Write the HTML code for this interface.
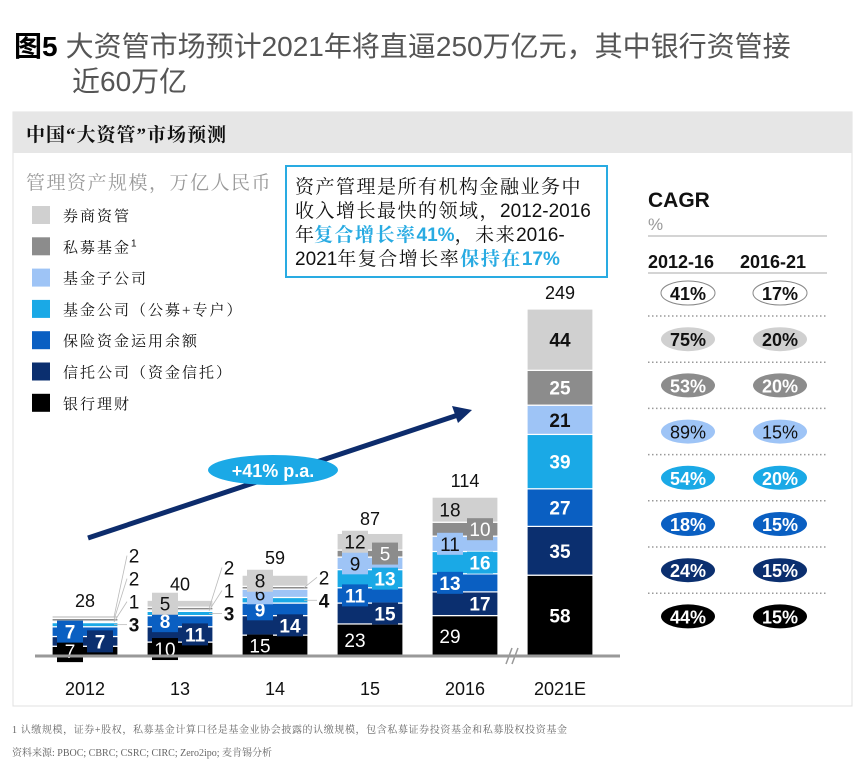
<!DOCTYPE html>
<html><head><meta charset="utf-8">
<style>
body{margin:0;width:864px;height:768px;background:#fff;overflow:hidden;font-family:"Liberation Sans","Noto Sans CJK SC",sans-serif;}
svg{position:absolute;left:0;top:0}
.serif{font-family:"Liberation Serif","Noto Serif CJK SC",serif}
</style></head>
<body>
<svg width="864" height="768" xmlns="http://www.w3.org/2000/svg" id="chart">
  <text x="14" y="56" font-size="28"><tspan font-weight="bold" fill="#000">图5</tspan><tspan fill="#555" dx="8">大资管市场预计2021年将直逼250万亿元，其中银行资管接</tspan></text>
  <text x="72" y="91" font-size="28" fill="#555">近60万亿</text>
  <rect x="13" y="112" width="839" height="594" fill="#fff" stroke="#e0e0e0"/>
  <rect x="13" y="112" width="839" height="41" fill="#e6e6e6"/>
  <text x="26" y="141" font-size="19" font-weight="bold" class="serif" fill="#111" letter-spacing="1">中国“大资管”市场预测</text>
  <text x="26" y="189" font-size="19" class="serif" fill="#999" letter-spacing="1.5">管理资产规模，万亿人民币</text>
  <g id="legend"></g>
  <rect x="286" y="166" width="321" height="111" fill="#fff" stroke="#29abe2" stroke-width="2"/>
  <g font-size="19" class="serif" fill="#111">
    <text x="295" y="193" letter-spacing="1.5">资产管理是所有机构金融业务中</text>
    <text x="295" y="217"><tspan letter-spacing="1.5">收入增长最快的领域，</tspan><tspan font-family="Liberation Sans">2012-2016</tspan></text>
    <text x="295" y="241">年<tspan fill="#29abe2" font-weight="bold" letter-spacing="1.5">复合增长率</tspan><tspan fill="#29abe2" font-weight="bold" font-family="Liberation Sans">41%</tspan><tspan letter-spacing="1.5">，未来</tspan><tspan font-family="Liberation Sans">2016-</tspan></text>
    <text x="295" y="265"><tspan font-family="Liberation Sans">2021</tspan><tspan letter-spacing="1.5">年复合增长率</tspan><tspan fill="#29abe2" font-weight="bold" letter-spacing="1.5">保持在</tspan><tspan fill="#29abe2" font-weight="bold" font-family="Liberation Sans">17%</tspan></text>
  </g>
  <g id="bars"></g>
  <line x1="88" y1="538" x2="458" y2="415" stroke="#0d2c6c" stroke-width="5"/>
  <polygon points="472,410 452,406 458,423" fill="#0d2c6c"/>
  <ellipse cx="273" cy="470" rx="65" ry="15" fill="#1ba9e6"/>
  <text x="273" y="477" font-size="18" font-weight="bold" fill="#fff" text-anchor="middle">+41% p.a.</text>
  <g id="axis"></g>
  <g id="cagr"></g>
  <text x="12" y="733" font-size="10" class="serif" fill="#666" letter-spacing="0.6">1 认缴规模，证券+股权，私募基金计算口径是基金业协会披露的认缴规模，包含私募证券投资基金和私募股权投资基金</text>
  <text x="12" y="756" font-size="10" class="serif" fill="#666">资料来源: PBOC; CBRC; CSRC; CIRC; Zero2ipo; 麦肯锡分析</text>
</svg>
<script>
const NS="http://www.w3.org/2000/svg";
const years=["2012","13","14","15","2016","2021E"];
const seriesNames=["银行理财","信托公司（资金信托）","保险资金运用余额","基金公司（公募+专户）","基金子公司","私募基金","券商资管"];
const bank=[7,10,15,23,29,58];
const trust=[7,11,14,15,17,35];
const insurance=[7,8,9,11,13,27];
const fundCo=[3,3,4,13,16,39];
const fundSub=[1,1,6,9,11,21];
const privateFund=[2,2,2,5,10,25];
const brokerage=[2,5,8,12,18,44];
const totals=[28,40,59,87,114,249];
const cagr1216=["44%","24%","18%","54%","89%","53%","75%","41%"];
const cagr1621=["15%","15%","15%","20%","15%","20%","20%","17%"];
const series=[bank,trust,insurance,fundCo,fundSub,privateFund,brokerage];
const colors=["#000000","#0b2f6f","#0a5fc2","#1aa9e6","#9ec4f6","#8c8c8c","#d0d0d0"];
const textCol=["#fff","#fff","#fff","#fff","#111","#fff","#111"];
const baseY=656, scale=347/249, bw=66;
function xPos(i){return 52+i*95;}
function yPos(v){return baseY-v*scale;}
function mk(tag,attrs,parent){const e=document.createElementNS(NS,tag);for(const k in attrs)e.setAttribute(k,attrs[k]);parent.appendChild(e);return e;}
const legend=document.getElementById('legend');
for(let k=0;k<7;k++){
  const s=6-k, y=206+k*31.3;
  const r=mk('rect',{x:32,y:y,width:18,height:18,fill:colors[s]},legend);
  
  
  const t=mk('text',{x:63,y:y+15,'font-size':15,fill:'#111','class':'serif','letter-spacing':'2'},legend);
  t.textContent=seriesNames[s];
  
  
  if(s==5){const sup=mk('tspan',{'font-size':10,dy:-6,'font-family':'Liberation Sans'},t);sup.textContent='1';}
}
const bars=document.getElementById('bars');
const rects=[],labels=[];
for(let i=0;i<years.length;i++){
  let cum=0;const x=xPos(i);let lastOut=9999;
  for(let s=0;s<7;s++){
    const v=series[s][i];
    const y0=yPos(cum), y1=yPos(cum+v);
    const r=mk('rect',{x:x,y:y1,width:bw,height:y0-y1,fill:colors[s],stroke:'#fff','stroke-width':1.2},bars);
    
    
    cum+=v;
  }
}
for(let i=0;i<years.length;i++){
  let cum=0;const x=xPos(i);let lastOut=9999;
  for(let s=0;s<7;s++){
    const v=series[s][i];
    const y0=yPos(cum), y1=yPos(cum+v);
    let cy=(y0+y1)/2;
    let lx,fill=textCol[s],bold=(s<4&&s!=0)||i==5;
    let outside=false;
    if(i==5){lx=x+bw/2;}
    else if(v>=5){lx=(s%2==0)?x+18:x+bw-18;}
    else{
      outside=true;lx=x+bw+16;fill='#111';
      cy=Math.min(cy,lastOut-23);lastOut=cy;
      const ld=mk('line',{x1:x+bw-4,y1:(y0+y1)/2,x2:lx-7,y2:cy,stroke:'#bbb','stroke-width':0.8},bars);
      
      
    }
    if(i<5&&!outside){
      const bx=mk('rect',{x:lx-13,y:cy-11,width:26,height:22,fill:colors[s]},bars);
      
      
    }
    const t=mk('text',{x:lx,y:cy+7,'font-size':19,'text-anchor':'middle',fill:fill,'font-weight':bold?'bold':'normal'},bars);
    t.textContent=v;
    
    
    cum+=v;
  }
  const tt=mk('text',{x:x+bw/2,y:yPos(totals[i])-10,'font-size':18,'text-anchor':'middle',fill:'#111'},bars);
  tt.textContent=totals[i];
  
  
}
const axis=document.getElementById('axis');
const ax=mk('line',{x1:35,y1:baseY,x2:620,y2:baseY,stroke:'#999','stroke-width':3},axis);


const br=mk('path',{d:'M506 664 L512 648 M512 664 L518 648',stroke:'#999','stroke-width':1.5,fill:'none'},axis);


for(let i=0;i<years.length;i++){
  const t=mk('text',{x:xPos(i)+bw/2,y:695,'font-size':18,'text-anchor':'middle',fill:'#111'},axis);
  t.textContent=years[i];
  
  
}
const cg=document.getElementById('cagr');
function tx(x,y,txt,attrs,name){const t=mk('text',Object.assign({x:x,y:y},attrs),cg);t.textContent=txt;return t;}
tx(648,207,'CAGR',{'font-size':21,'font-weight':'bold',fill:'#111'},'cagr-title');
tx(648,230,'%',{'font-size':17,fill:'#999'},'cagr-unit');
let l=mk('line',{x1:648,y1:236,x2:827,y2:236,stroke:'#aaa','stroke-width':1},cg);

tx(648,268,'2012-16',{'font-size':18,'font-weight':'bold',fill:'#111'},'cagr-header-2012-16');
tx(740,268,'2016-21',{'font-size':18,'font-weight':'bold',fill:'#111'},'cagr-header-2016-21');
l=mk('line',{x1:648,y1:273,x2:827,y2:273,stroke:'#aaa','stroke-width':1},cg);

const rowFill=["none","#d0d0d0","#8c8c8c","#9ec4f6","#1aa9e6","#0a5fc2","#0b2f6f","#000"];
const rowText=["#111","#111","#fff","#111","#fff","#fff","#fff","#fff"];
for(let r=0;r<8;r++){
  const cy=293+r*46.2, idx=7-r;
  [[688,cagr1216[idx]],[780,cagr1621[idx]]].forEach(([cx,v],c)=>{
    const e=mk('ellipse',{cx:cx,cy:cy,rx:27,ry:12,fill:rowFill[r],stroke:r==0?'#888':'none'},cg);
    
    
    tx(cx,cy+7,v,{'font-size':18,'font-weight':r==3?'normal':'bold','text-anchor':'middle',fill:rowText[r]},'cagr-value-'+r+'-'+c);
  });
  if(r<7){const d=mk('line',{x1:648,y1:cy+23,x2:827,y2:cy+23,stroke:'#999','stroke-width':1.5,'stroke-dasharray':'1.5 2.5'},cg);
    }
}
</script>
</body></html>
